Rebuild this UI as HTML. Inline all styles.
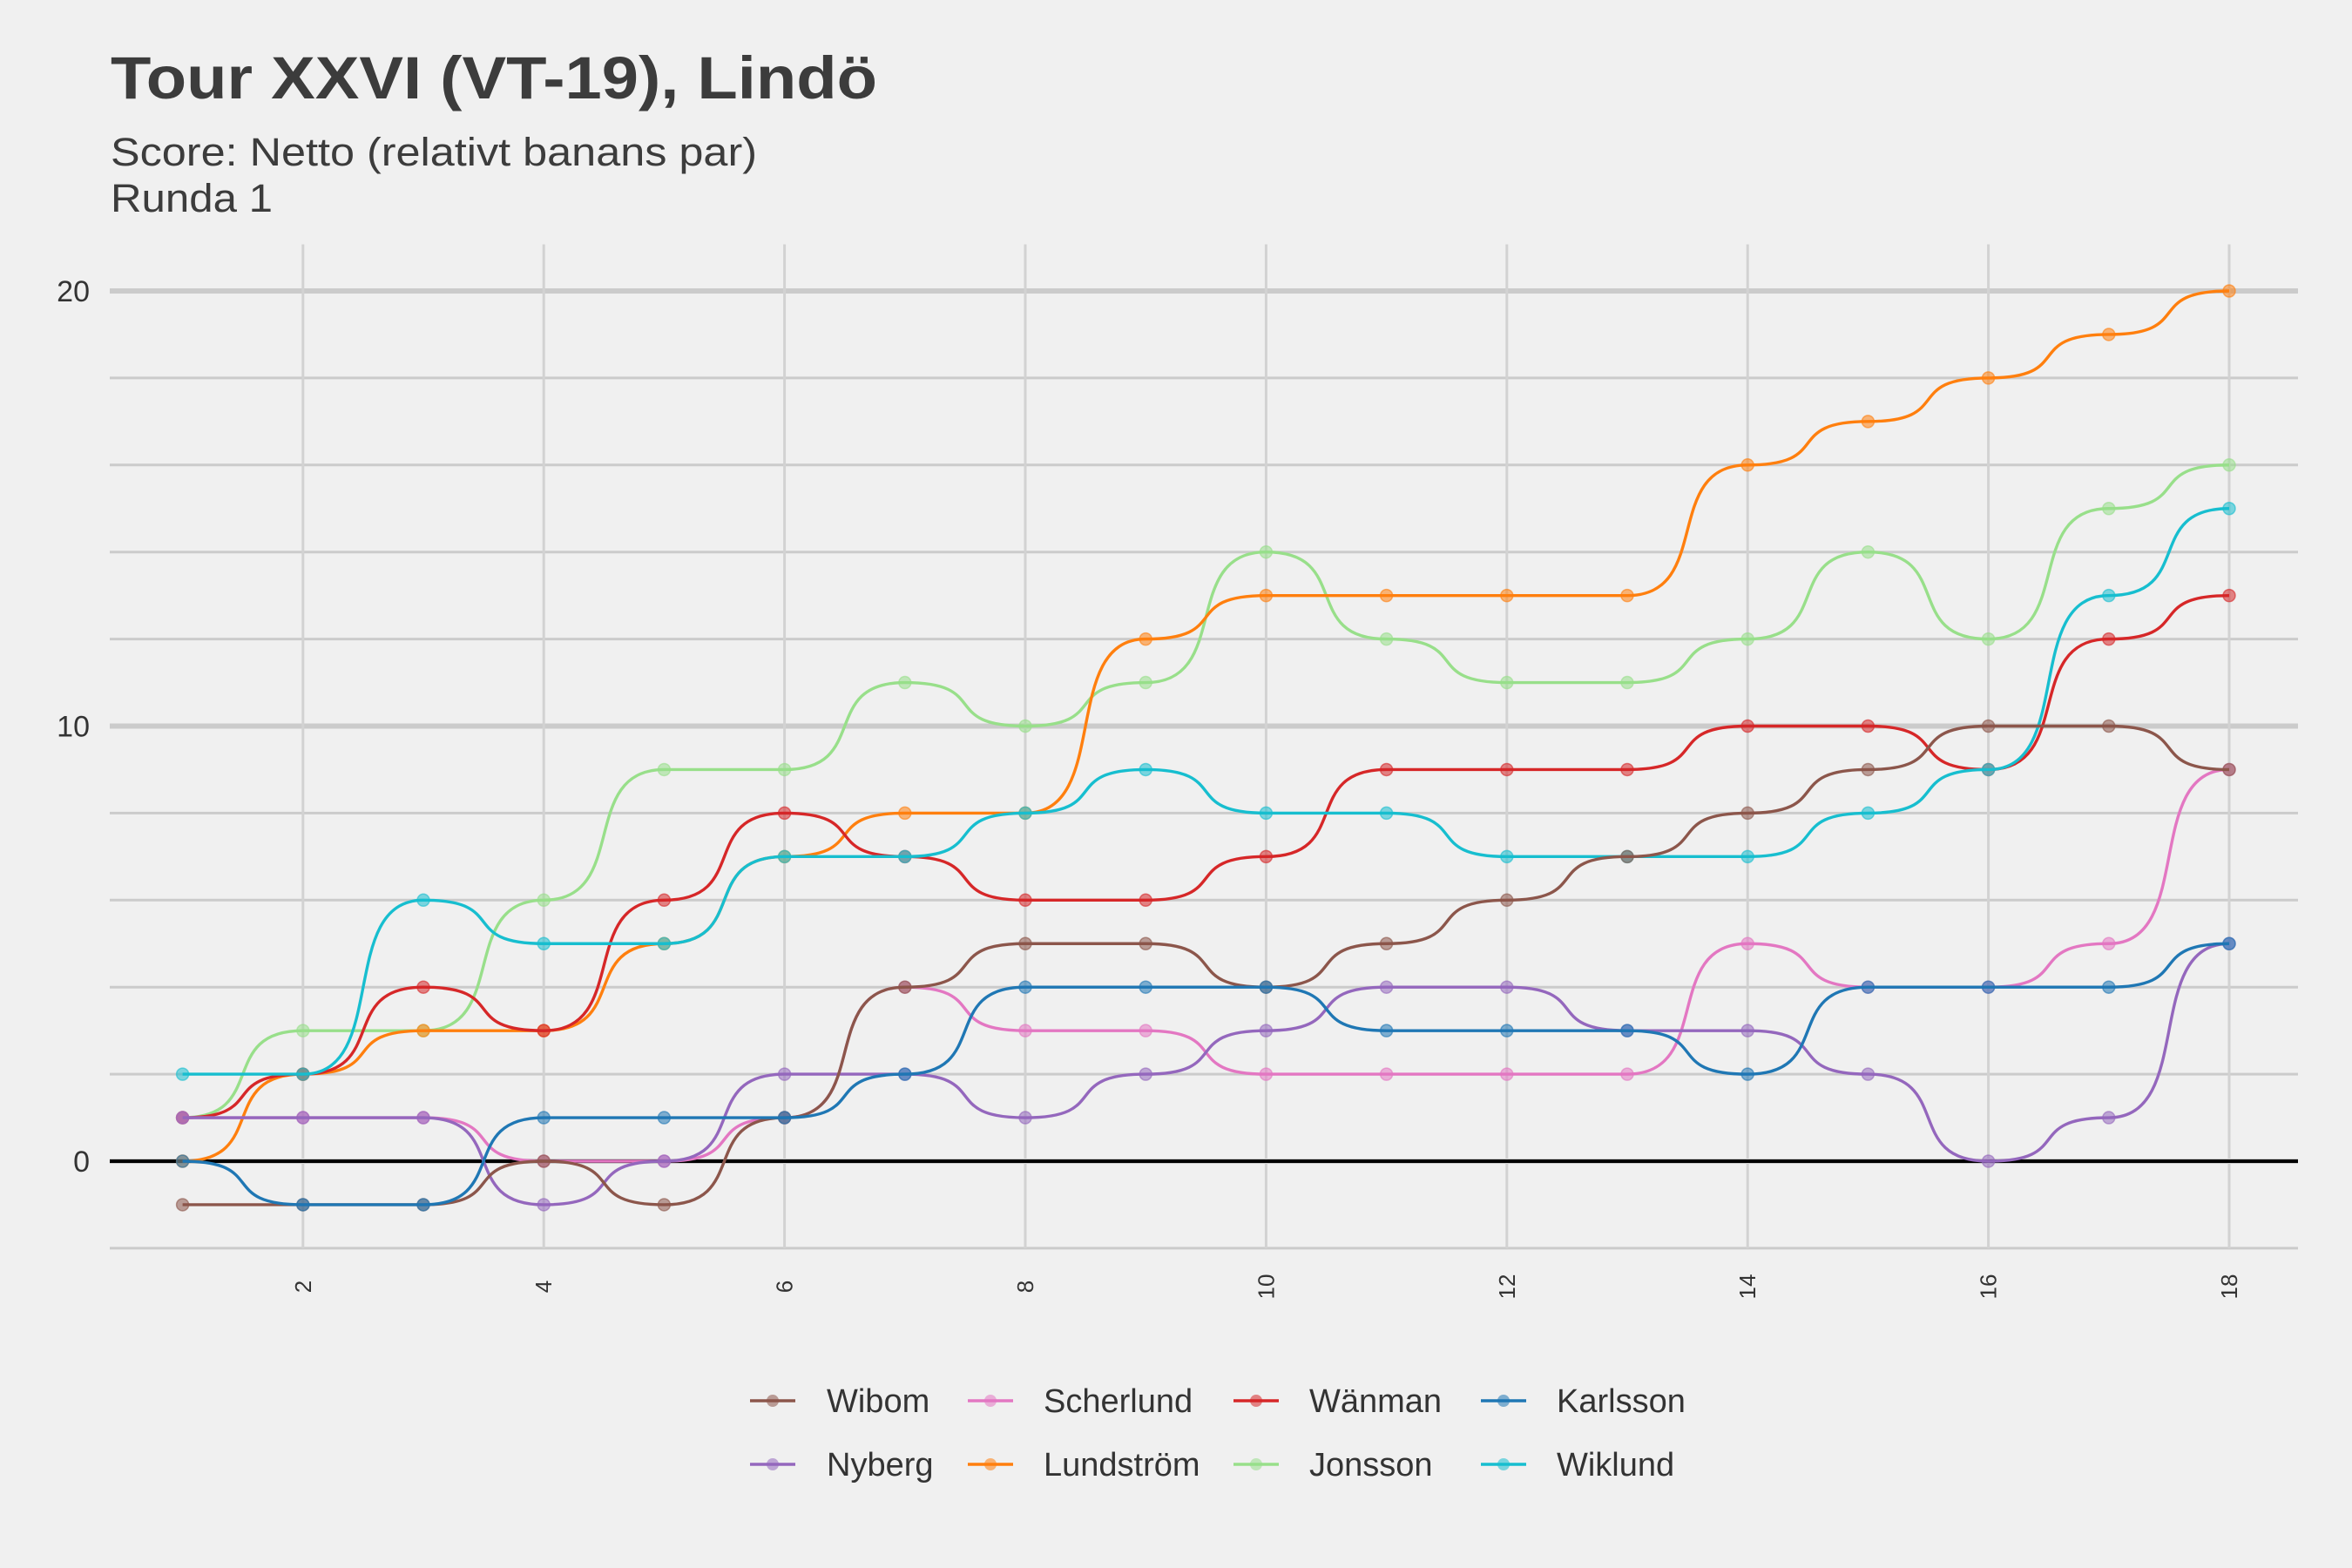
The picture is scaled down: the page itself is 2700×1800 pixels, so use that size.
<!DOCTYPE html>
<html><head><meta charset="utf-8">
<style>
html,body{margin:0;padding:0;background:#f0f0f0;}
svg{display:block;font-family:"Liberation Sans",Arial,sans-serif;}
</style></head>
<body>
<svg id="chart" width="2700" height="1800" viewBox="0 0 2700 1800" xmlns="http://www.w3.org/2000/svg">
<rect width="2700" height="1800" fill="#f0f0f0"/>
<text x="127" y="113" font-size="69" font-weight="bold" fill="#3c3c3c" textLength="880" lengthAdjust="spacingAndGlyphs">Tour XXVI (VT-19), Lindö</text>
<text x="127" y="190" font-size="45" fill="#3c3c3c" textLength="742" lengthAdjust="spacingAndGlyphs">Score: Netto (relativt banans par)</text>
<text x="127" y="243" font-size="45" fill="#3c3c3c" textLength="186" lengthAdjust="spacingAndGlyphs">Runda 1</text>
<g id="grid"></g>
<g id="axes"></g>
<g id="series"></g>
<g id="legend"></g>
</svg>
<script>
const holes = [1,2,3,4,5,6,7,8,9,10,11,12,13,14,15,16,17,18];
const yTicks = [0,10,20];
const xTicks = [2,4,6,8,10,12,14,16,18];
const names = ["Jonsson","Lundström","Wänman","Wiklund","Scherlund","Nyberg","Wibom","Karlsson"];
const colors = ["#98df8a","#ff7f0e","#d62728","#17becf","#e377c2","#9467bd","#8c564b","#1f77b4"];
const jonsson   = [1,3,3,6,9,9,11,10,11,14,12,11,11,12,14,12,15,16];
const lundstrom = [0,2,3,3,5,7,8,8,12,13,13,13,13,16,17,18,19,20];
const wanman    = [1,2,4,3,6,8,7,6,6,7,9,9,9,10,10,9,12,13];
const wiklund   = [2,2,6,5,5,7,7,8,9,8,8,7,7,7,8,9,13,15];
const scherlund = [1,1,1,0,0,1,4,3,3,2,2,2,2,5,4,4,5,9];
const nyberg    = [1,1,1,-1,0,2,2,1,2,3,4,4,3,3,2,0,1,5];
const wibom     = [-1,-1,-1,0,-1,1,4,5,5,4,5,6,7,8,9,10,10,9];
const karlsson  = [0,-1,-1,1,1,1,2,4,4,4,3,3,3,2,4,4,4,5];
const values = [jonsson,lundstrom,wanman,wiklund,scherlund,nyberg,wibom,karlsson];
const legendOrder = ["Wibom","Scherlund","Wänman","Karlsson","Nyberg","Lundström","Jonsson","Wiklund"];

const NS="http://www.w3.org/2000/svg";
function xs(h){return 209.6+(h-1)*138.2;}
function ys(v){return 1333-v*49.95;}
function mk(tag,attrs,parent){const e=document.createElementNS(NS,tag);for(const k in attrs)e.setAttribute(k,attrs[k]);parent.appendChild(e);return e;}
const grid=document.getElementById('grid'),axes=document.getElementById('axes'),ser=document.getElementById('series'),leg=document.getElementById('legend');
const yTop=ys(21.07), yBot=ys(-2), xL=126, xR=2638;
for(let v=-2;v<=20;v+=2){
  const major=yTicks.includes(v);
  const l=mk('line',{x1:xL,x2:xR,y1:ys(v),y2:ys(v),stroke:'#cbcbcb','stroke-width':major?6:3},grid);
  
  
}
xTicks.forEach(h=>{
  const l=mk('line',{x1:xs(h),x2:xs(h),y1:yTop,y2:yBot,stroke:'#d2d2d2','stroke-width':3},grid);
  
  
  const t=mk('text',{x:0,y:0,'font-size':26,fill:'#333','text-anchor':'middle',transform:`translate(${xs(h)+9},1477) rotate(-90)`},axes);
  t.textContent=h;
  
  
});
yTicks.forEach(v=>{
  const t=mk('text',{x:103,y:ys(v)+12,'font-size':34,fill:'#333','text-anchor':'end'},axes);
  t.textContent=v;
  
  
});
const zl=mk('line',{x1:xL,x2:xR,y1:ys(0),y2:ys(0),stroke:'#000','stroke-width':4},axes);



function pathFor(arr){
  let d=`M${xs(holes[0])},${ys(arr[0])}`;
  for(let i=1;i<arr.length;i++){
    const x0=xs(holes[i-1]),x1=xs(holes[i]),dx=x1-x0;
    d+=` C${x0+dx*0.72},${ys(arr[i-1])} ${x1-dx*0.72},${ys(arr[i])} ${x1},${ys(arr[i])}`;
  }
  return d;
}
names.forEach((n,si)=>{
  const g=mk('g',{},ser);
  
  
  const p=mk('path',{d:pathFor(values[si]),fill:'none',stroke:colors[si],'stroke-width':3.4},g);
  
  
  values[si].forEach((v,i)=>{
    const c=mk('circle',{cx:xs(holes[i]),cy:ys(v),r:7,fill:colors[si],'fill-opacity':0.55,stroke:colors[si],'stroke-opacity':0.6,'stroke-width':1.5},g);
    
    
  });
});
const colKey=[861,1111,1416,1700], colLab=[949,1198,1503,1787], rowY=[1608,1681];
legendOrder.forEach((n,i)=>{
  const si=names.indexOf(n), r=Math.floor(i/4), c=i%4;
  const g=mk('g',{},leg);
  
  
  mk('line',{x1:colKey[c],x2:colKey[c]+52,y1:rowY[r],y2:rowY[r],stroke:colors[si],'stroke-width':3.4},g);
  mk('circle',{cx:colKey[c]+26,cy:rowY[r],r:7,fill:colors[si],'fill-opacity':0.55},g);
  const t=mk('text',{x:colLab[c],y:rowY[r]+13,'font-size':38,fill:'#333'},g);
  t.textContent=n;
});
</script>
</body></html>
